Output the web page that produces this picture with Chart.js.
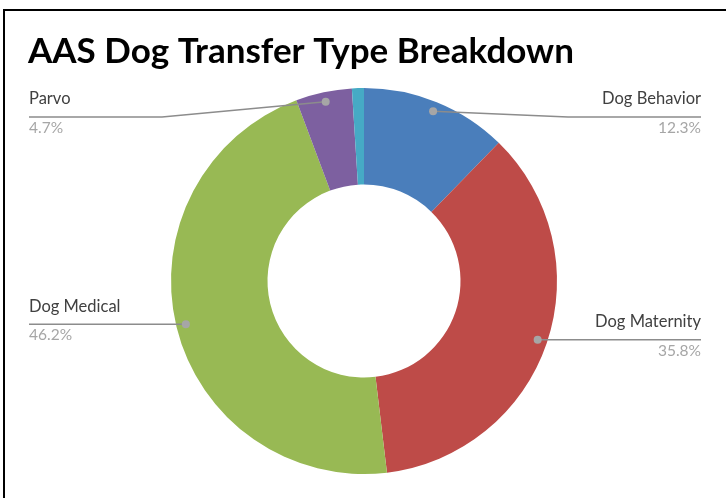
<!DOCTYPE html>
<html>
<head>
<meta charset="utf-8">
<script src="https://cdn.jsdelivr.net/npm/chart.js@4"></script>
<style>
  html, body { margin: 0; padding: 0; background: #fff; overflow: hidden; }
  #frame { position: absolute; left: 3px; top: 9px; width: 760px; height: 520px; border: 2px solid #000; }
  #wrap { position: absolute; left: 0; top: 0; width: 726px; height: 498px; }
</style>
</head>
<body>
<div id="frame"></div>
<div id="wrap"><canvas id="transferChart"></canvas></div>
<script>
const chartTitle = 'AAS Dog Transfer Type Breakdown';
const categories = ['Dog Behavior', 'Dog Maternity', 'Dog Medical', 'Parvo', 'Other'];
const shares = [12.3, 35.8, 46.2, 4.7, 1.0];
const shownLabels = [true, true, true, true, false];
const sliceColors = ['#4A7EBB', '#BE4B48', '#98B954', '#7D60A0', '#46AAC5'];

document.addEventListener('DOMContentLoaded', function() {

    // titulo y etiquetas con lineas guia
    const calloutPlugin = {
        id: 'callouts',
        afterDraw(chart) {
            const ctx = chart.ctx;
            ctx.save();
            ctx.fillStyle = '#000';
            ctx.font = 'bold 35px Lato';
            ctx.textAlign = 'left';
            ctx.textBaseline = 'middle';
            ctx.fillText(chartTitle, 28, 52);

            const arcs = chart.getDatasetMeta(0).data;
            arcs.forEach(function(arc, i) {
                if (!shownLabels[i]) return;
                const mid = (arc.startAngle + arc.endAngle) / 2;
                const r = arc.outerRadius * 0.95;
                const dx = arc.x + Math.cos(mid) * r;
                const dy = arc.y + Math.sin(mid) * r;
                const right = Math.cos(mid) >= 0;
                const edge = right ? 701 : 29;
                const lineY = Math.max(dy, 117);
                const elbow = lineY === dy ? dx : (right ? edge - 133 : edge + 133);

                ctx.strokeStyle = '#8c8c8c';
                ctx.lineWidth = 1.5;
                ctx.beginPath();
                ctx.moveTo(dx, dy);
                ctx.lineTo(elbow, lineY);
                ctx.lineTo(edge, lineY);
                ctx.stroke();

                ctx.fillStyle = '#a6a6a6';
                ctx.beginPath();
                ctx.arc(dx, dy, 4, 0, Math.PI * 2);
                ctx.fill();

                ctx.textAlign = right ? 'right' : 'left';
                ctx.font = '16.5px Lato';
                ctx.fillStyle = '#404040';
                ctx.fillText(chart.data.labels[i], edge, lineY - 18);
                ctx.font = '15.5px Lato';
                ctx.fillStyle = '#a6a6a6';
                ctx.fillText(shares[i].toFixed(1) + '%', edge, lineY + 11);
            });
            ctx.restore();
        }
    };

    new Chart(document.getElementById('transferChart'), {
        type: 'doughnut',
        data: {
            labels: categories,
            datasets: [{
                data: shares,
                backgroundColor: sliceColors,
                borderWidth: 0
            }]
        },
        options: {
            responsive: true,
            maintainAspectRatio: false,
            animation: false,
            cutout: '50%',
            layout: {
                padding: { top: 88, bottom: 24, left: 171, right: 169 }
            },
            plugins: {
                legend: { display: false },
                tooltip: { enabled: false }
            }
        },
        plugins: [calloutPlugin]
    });
});
</script>
</body>
</html>
